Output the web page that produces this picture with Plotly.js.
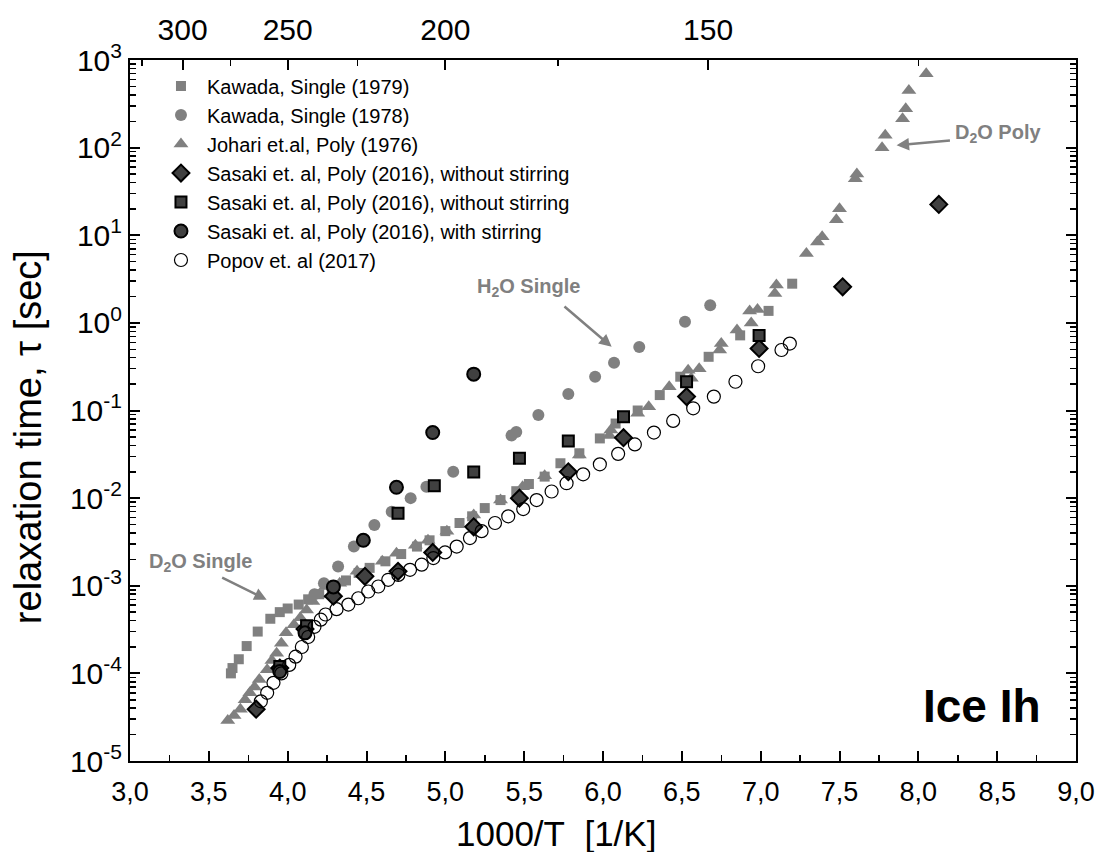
<!DOCTYPE html>
<html>
<head>
<meta charset="utf-8">
<script src="https://cdn.plot.ly/plotly-3.0.1.min.js"></script>
<style>html,body{margin:0;padding:0;background:#fff;}#chart{width:1101px;height:852px;}</style>
</head>
<body>
<div id="chart"></div>
<script>
// ---- Data ----
const kawada79X = [3.64,3.65,3.69,3.74,3.81,3.89,3.95,4.00,4.07,4.13,4.20,4.28,4.37,4.45,4.52,4.62,4.72,4.82,4.90,5.00,5.09,5.17,5.25,5.35,5.45,5.53,5.63,5.73,5.85,5.98,6.08,6.22,6.36,6.49,6.67,6.87,7.05,7.20];
const kawada79Y = [1.0e-4,1.15e-4,1.45e-4,2.05e-4,3.0e-4,4.2e-4,5.0e-4,5.5e-4,6.1e-4,7.0e-4,8.0e-4,9.5e-4,1.15e-3,1.4e-3,1.6e-3,1.9e-3,2.3e-3,2.8e-3,3.3e-3,4.2e-3,5.2e-3,6.2e-3,7.7e-3,9.5e-3,0.012,0.0145,0.0176,0.025,0.0325,0.048,0.071,0.10,0.15,0.243,0.41,0.72,1.37,2.8];

const kawada78X = [4.17,4.23,4.32,4.42,4.55,4.66,4.78,4.88,5.05,5.42,5.45,5.59,5.78,5.95,6.07,6.23,6.52,6.68];
const kawada78Y = [8.0e-4,1.07e-3,1.66e-3,2.8e-3,4.95e-3,7.0e-3,0.010,0.0135,0.020,0.052,0.057,0.089,0.154,0.243,0.35,0.53,1.03,1.59];

const johariX = [3.62,3.66,3.70,3.73,3.76,3.79,3.82,3.87,3.90,3.93,3.96,3.99,4.04,4.08,4.12,4.16,4.20,4.24,4.33,4.44,4.60,4.69,4.81,4.89,5.01,5.18,5.35,5.49,5.63,5.85,6.04,6.05,6.22,6.29,6.42,6.54,6.56,6.61,6.74,6.75,6.85,6.94,6.93,6.98,7.09,7.10,7.29,7.36,7.39,7.48,7.50,7.60,7.61,7.77,7.79,7.90,7.92,7.94,8.05];
const johariY = [2.9e-5,3.3e-5,3.9e-5,5.0e-5,6.0e-5,7.0e-5,8.5e-5,1.1e-4,1.4e-4,1.7e-4,2.2e-4,2.9e-4,3.6e-4,4.3e-4,5.3e-4,6.6e-4,7.9e-4,9.8e-4,1.07e-3,1.46e-3,1.9e-3,2.35e-3,2.9e-3,3.3e-3,4.2e-3,6.4e-3,9.5e-3,0.0135,0.018,0.031,0.052,0.060,0.093,0.11,0.187,0.288,0.234,0.30,0.49,0.58,0.83,1.0,1.37,1.42,2.16,2.7,6.2,8.4,9.6,15,20,44,50,100,138,214,277,449,695];

const sasakiDiaX = [3.80,3.95,4.11,4.29,4.49,4.70,4.92,5.18,5.47,5.78,6.13,6.53,6.99,7.52,8.13];
const sasakiDiaY = [3.9e-5,1.15e-4,3.2e-4,7.6e-4,1.28e-3,1.46e-3,2.4e-3,4.7e-3,0.010,0.020,0.049,0.144,0.51,2.58,22.5];

const sasakiSqX = [3.95,4.12,4.70,4.93,5.18,5.47,5.78,6.13,6.53,6.99];
const sasakiSqY = [1.2e-4,3.5e-4,6.7e-3,0.0138,0.0199,0.0285,0.045,0.085,0.213,0.72];

const sasakiCirX = [3.95,4.11,4.29,4.48,4.69,4.92,5.18];
const sasakiCirY = [1.05e-4,2.9e-4,9.7e-4,3.3e-3,0.0133,0.056,0.26];

const popovX = [3.83,3.87,3.91,3.96,4.01,4.05,4.09,4.13,4.17,4.21,4.24,4.31,4.385,4.448,4.511,4.575,4.638,4.702,4.776,4.85,4.924,4.998,5.072,5.156,5.23,5.315,5.399,5.494,5.579,5.674,5.769,5.874,5.98,6.096,6.202,6.323,6.445,6.572,6.703,6.84,6.984,7.132,7.185];
const popovY = [4.8e-5,6.0e-5,7.8e-5,1.0e-4,1.25e-4,1.55e-4,2.0e-4,2.6e-4,3.4e-4,4.1e-4,4.7e-4,5.4e-4,6.1e-4,7.2e-4,8.6e-4,9.8e-4,1.17e-3,1.33e-3,1.52e-3,1.74e-3,2.07e-3,2.4e-3,2.8e-3,3.5e-3,4.2e-3,5.2e-3,6.2e-3,7.5e-3,9.5e-3,0.0119,0.0148,0.0187,0.0243,0.032,0.041,0.056,0.076,0.106,0.144,0.213,0.32,0.49,0.58];

const seriesNames = [
  "Kawada, Single (1979)",
  "Kawada, Single (1978)",
  "Johari et.al, Poly (1976)",
  "Sasaki et. al, Poly (2016), without stirring",
  "Sasaki et. al, Poly (2016), without stirring",
  "Sasaki et. al, Poly (2016), with stirring",
  "Popov et. al (2017)"
];

// top axis: temperature in K
const tempMajor = [300,250,200,150];
const tempMinor = [325,275,225,175,125];
// left axis decades
const yExponents = [-5,-4,-3,-2,-1,0,1,2,3];

// ---- Styling ----
const LG = "#808080", DK = "#404040";
const FONT = "Liberation Sans, Arial, sans-serif";

const traces = [
  {x:kawada79X, y:kawada79Y, name:seriesNames[0], mode:"markers", type:"scatter",
   marker:{symbol:"square", size:10, color:LG}},
  {x:kawada78X, y:kawada78Y, name:seriesNames[1], mode:"markers", type:"scatter",
   marker:{symbol:"circle", size:12, color:LG}},
  {x:johariX, y:johariY, name:seriesNames[2], mode:"markers", type:"scatter",
   marker:{symbol:"triangle-up", size:13, color:LG}},
  {x:sasakiDiaX, y:sasakiDiaY, name:seriesNames[3], mode:"markers", type:"scatter",
   marker:{symbol:"diamond", size:13, color:DK, line:{color:"#000", width:2}}},
  {x:sasakiSqX, y:sasakiSqY, name:seriesNames[4], mode:"markers", type:"scatter",
   marker:{symbol:"square", size:11, color:DK, line:{color:"#000", width:2}}},
  {x:sasakiCirX, y:sasakiCirY, name:seriesNames[5], mode:"markers", type:"scatter",
   marker:{symbol:"circle", size:13, color:DK, line:{color:"#000", width:2}}},
  {x:popovX, y:popovY, name:seriesNames[6], mode:"markers", type:"scatter",
   marker:{symbol:"circle-open", size:13, color:"#000", line:{color:"#000", width:1.2}}},
  // invisible anchor so the top temperature axis is drawn
  {x:tempMajor.map(t=>1000/t), y:tempMajor.map(()=>1), xaxis:"x2", yaxis:"y", mode:"markers",
   marker:{opacity:0}, showlegend:false, hoverinfo:"skip"}
];

const annGray = {family:FONT, size:20, color:LG};
const layout = {
  width:1101, height:852,
  margin:{l:130, r:25, t:60, b:91, pad:0},
  paper_bgcolor:"#fff", plot_bgcolor:"#fff",
  separators:",.",
  font:{family:FONT, color:"#000"},
  showlegend:true,
  legend:{x:0.0264, y:0.9907, xanchor:"left", yanchor:"top", bgcolor:"rgba(0,0,0,0)", itemwidth:42,
          font:{family:FONT, size:20, color:"#000"}, tracegroupgap:0, itemsizing:"trace"},
  xaxis:{range:[3,9], tick0:3, dtick:0.5, tickformat:".1f", ticks:"inside", ticklen:10, tickwidth:2,
         tickcolor:"#000", showline:true, linewidth:2, linecolor:"#000", mirror:false,
         showgrid:false, zeroline:false, ticklabelstandoff:6,
         minor:{dtick:0.25, tick0:3, ticks:"inside", ticklen:6, tickwidth:1.5, tickcolor:"#000", showgrid:false},
         tickfont:{family:FONT, size:27, color:"#000"}},
  xaxis2:{overlaying:"x", side:"top", range:[3,9], tickvals:tempMajor.map(t=>1000/t), ticktext:tempMajor.map(String),
          ticks:"inside", ticklen:10, tickwidth:2, tickcolor:"#000", showline:true, linewidth:2, linecolor:"#000",
          showgrid:false, zeroline:false, ticklabelstandoff:6,
          minor:{tickvals:tempMinor.map(t=>1000/t), ticks:"inside", ticklen:6, tickwidth:1.5, tickcolor:"#000", showgrid:false},
          tickfont:{family:FONT, size:30, color:"#000"}},
  yaxis:{type:"log", range:[-5,3], tickvals:yExponents.map(e=>Math.pow(10,e)),
         ticktext:yExponents.map(e=>"10<sup>"+e+"</sup>"), ticks:"inside", ticklen:10, tickwidth:2,
         tickcolor:"#000", showline:true, linewidth:2, linecolor:"#000", mirror:"ticks",
         showgrid:false, zeroline:false,
         minor:{dtick:"D1", ticks:"inside", ticklen:6, tickwidth:1.5, tickcolor:"#000", showgrid:false},
         tickfont:{family:FONT, size:30, color:"#000"}},
  annotations:[
    // axis titles (offset from centre as in the reference)
    {xref:"paper", yref:"paper", x:0.4503, y:-0.103, xanchor:"center", yanchor:"middle",
     text:"1000/T\u00a0\u00a0[1/K]", showarrow:false, font:{family:FONT, size:35, color:"#000"}},
    {xref:"paper", yref:"paper", x:-0.1078, y:0.462, xanchor:"center", yanchor:"middle", textangle:-90,
     text:"relaxation time, \u03c4 [sec]", showarrow:false, font:{family:FONT, size:38, color:"#000"}},
    {xref:"x", yref:"y", x:5.53, y:0.407, text:"<b>H<sub>2</sub>O Single</b>", showarrow:false, font:annGray},
    {xref:"x", yref:"y", x:6.055, y:-0.273, ax:5.746, ay:0.202, axref:"x", ayref:"y", text:"", showarrow:true,
     arrowhead:2, arrowsize:1, arrowwidth:2.5, arrowcolor:LG},
    {xref:"x", yref:"y", x:3.444, y:-2.738, text:"<b>D<sub>2</sub>O Single</b>", showarrow:false, font:annGray},
    {xref:"x", yref:"y", x:3.867, y:-3.16, ax:3.575, ay:-2.90, axref:"x", ayref:"y", text:"", showarrow:true,
     arrowhead:2, arrowsize:1, arrowwidth:2.5, arrowcolor:LG},
    {xref:"x", yref:"y", x:8.504, y:2.162, text:"<b>D<sub>2</sub>O Poly</b>", showarrow:false, font:annGray},
    {xref:"x", yref:"y", x:7.862, y:2.026, ax:8.21, ay:2.083, axref:"x", ayref:"y", text:"", showarrow:true,
     arrowhead:2, arrowsize:1, arrowwidth:2.5, arrowcolor:LG},
    {xref:"paper", yref:"paper", x:0.9006, y:0.079, xanchor:"center", yanchor:"middle", text:"<b>Ice Ih</b>", showarrow:false,
     font:{family:FONT, size:46, color:"#000"}}
  ]
};

Plotly.newPlot("chart", traces, layout, {displayModeBar:false, staticPlot:true});
</script>
</body>
</html>
